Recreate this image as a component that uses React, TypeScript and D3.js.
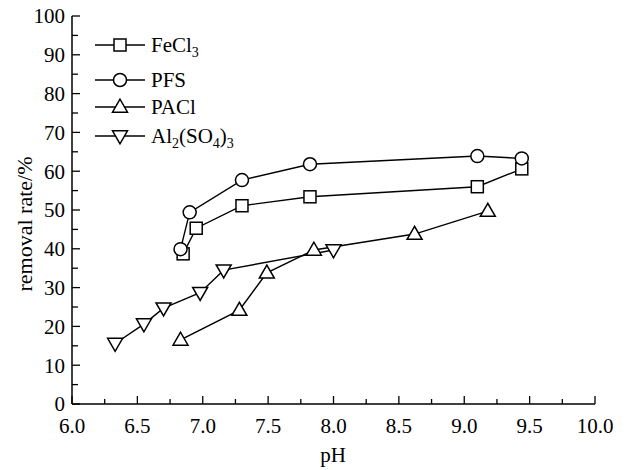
import React, { useEffect, useRef } from 'react';
import * as d3 from 'd3';

// pH values and removal rates (%)
const fecl3PH = [6.85, 6.95, 7.3, 7.82, 9.1, 9.44];
const fecl3Rate = [38.7, 45.3, 51.1, 53.4, 56.0, 60.6];

const pfsPH = [6.83, 6.9, 7.3, 7.82, 9.1, 9.44];
const pfsRate = [39.9, 49.4, 57.7, 61.8, 63.9, 63.3];

const paclPH = [6.83, 7.28, 7.49, 7.85, 8.62, 9.18];
const paclRate = [16.5, 24.2, 33.8, 39.7, 43.8, 49.7];

const alPH = [6.33, 6.55, 6.7, 6.98, 7.16, 8.0];
const alRate = [15.6, 20.6, 24.7, 28.7, 34.5, 39.7];

const xTicks = [6.0, 6.5, 7.0, 7.5, 8.0, 8.5, 9.0, 9.5, 10.0];
const yTicks = [0, 10, 20, 30, 40, 50, 60, 70, 80, 90, 100];

const series = [
  { name: 'FeCl', sub: '3', tail: '', sub2: '', marker: 'square', x: fecl3PH, y: fecl3Rate },
  { name: 'PFS', sub: '', tail: '', sub2: '', marker: 'circle', x: pfsPH, y: pfsRate },
  { name: 'PACl', sub: '', tail: '', sub2: '', marker: 'up', x: paclPH, y: paclRate },
  { name: 'Al', sub: '2', tail: '(SO', sub2: '4', marker: 'down', x: alPH, y: alRate }
];

const FONT = '"Liberation Serif", "DejaVu Serif", serif';

const drawMarker = (g, type, cx, cy) => {
  if (type === 'square') {
    g.append('rect')
      .attr('x', cx - 6)
      .attr('y', cy - 6)
      .attr('width', 12)
      .attr('height', 12)
      .attr('fill', 'white')
      .attr('stroke', 'black')
      .attr('stroke-width', 1.5);
  } else if (type === 'circle') {
    g.append('circle')
      .attr('cx', cx)
      .attr('cy', cy)
      .attr('r', 6.5)
      .attr('fill', 'white')
      .attr('stroke', 'black')
      .attr('stroke-width', 1.5);
  } else {
    const h = 13;
    const w = 7.5;
    const pts =
      type === 'up'
        ? [[cx, cy - h * 0.6], [cx - w, cy + h * 0.4], [cx + w, cy + h * 0.4]]
        : [[cx, cy + h * 0.6], [cx - w, cy - h * 0.4], [cx + w, cy - h * 0.4]];
    g.append('polygon')
      .attr('points', pts.map((p) => p.join(',')).join(' '))
      .attr('fill', 'white')
      .attr('stroke', 'black')
      .attr('stroke-width', 1.5);
  }
};

const App = () => {
  const svgRef = useRef(null);

  useEffect(() => {
    const svg = d3.select(svgRef.current);
    svg.selectAll('*').remove();

    const x = d3.scaleLinear().domain([6, 10]).range([72, 595]);
    const y = d3.scaleLinear().domain([0, 100]).range([404, 16]);

    // x axis with inward ticks
    const xAxis = svg.append('g').attr('transform', `translate(0,${y(0)})`);
    xAxis
      .append('line')
      .attr('x1', x(6))
      .attr('x2', x(10))
      .attr('stroke', 'black')
      .attr('stroke-width', 1.5);
    d3.range(6, 10.001, 0.25).forEach((v) => {
      const major = Math.abs(v * 2 - Math.round(v * 2)) < 1e-6;
      xAxis
        .append('line')
        .attr('x1', x(v))
        .attr('x2', x(v))
        .attr('y1', 0)
        .attr('y2', major ? -8 : -5)
        .attr('stroke', 'black')
        .attr('stroke-width', 1.3);
    });
    xAxis
      .selectAll('text')
      .data(xTicks)
      .enter()
      .append('text')
      .attr('x', (d) => x(d))
      .attr('y', 29)
      .attr('text-anchor', 'middle')
      .attr('font-family', FONT)
      .attr('font-size', 21)
      .text((d) => d.toFixed(1));

    // y axis with inward ticks
    const yAxis = svg.append('g').attr('transform', `translate(${x(6)},0)`);
    yAxis
      .append('line')
      .attr('y1', y(0))
      .attr('y2', y(100))
      .attr('stroke', 'black')
      .attr('stroke-width', 1.5);
    d3.range(0, 100.001, 5).forEach((v) => {
      const major = v % 10 === 0;
      yAxis
        .append('line')
        .attr('y1', y(v))
        .attr('y2', y(v))
        .attr('x1', 0)
        .attr('x2', major ? 8 : 6)
        .attr('stroke', 'black')
        .attr('stroke-width', 1.3);
    });
    yAxis
      .selectAll('text')
      .data(yTicks)
      .enter()
      .append('text')
      .attr('x', -7)
      .attr('y', (d) => y(d))
      .attr('dy', '0.35em')
      .attr('text-anchor', 'end')
      .attr('font-family', FONT)
      .attr('font-size', 21)
      .text((d) => d);

    // axis titles
    svg
      .append('text')
      .attr('transform', 'translate(32,224) rotate(-90)')
      .attr('text-anchor', 'middle')
      .attr('font-family', FONT)
      .attr('font-size', 22)
      .text('removal rate/%');
    svg
      .append('text')
      .attr('x', 333)
      .attr('y', 462)
      .attr('text-anchor', 'middle')
      .attr('font-family', FONT)
      .attr('font-size', 21)
      .text('pH');

    // lines
    const line = d3
      .line()
      .x((d) => x(d[0]))
      .y((d) => y(d[1]));
    series.forEach((s) => {
      svg
        .append('path')
        .datum(s.x.map((v, i) => [v, s.y[i]]))
        .attr('fill', 'none')
        .attr('stroke', 'black')
        .attr('stroke-width', 1.4)
        .attr('d', line);
    });

    // markers
    series.forEach((s) => {
      const g = svg.append('g');
      s.x.forEach((v, i) => drawMarker(g, s.marker, x(v), y(s.y[i])));
    });

    // legend
    const rowY = [45, 80, 107, 136];
    series.forEach((s, i) => {
      const g = svg.append('g');
      g.append('line')
        .attr('x1', 95)
        .attr('x2', 145)
        .attr('y1', rowY[i])
        .attr('y2', rowY[i])
        .attr('stroke', 'black')
        .attr('stroke-width', 1.4);
      drawMarker(g, s.marker, 120, rowY[i]);
      const t = g
        .append('text')
        .attr('x', 151)
        .attr('y', rowY[i] + 7)
        .attr('font-family', FONT)
        .attr('font-size', 21);
      t.append('tspan').text(s.name);
      if (s.sub) {
        t.append('tspan').attr('font-size', 14).attr('dy', 5).text(s.sub);
      }
      if (s.tail) {
        t.append('tspan').attr('dy', -5).text(s.tail);
        t.append('tspan').attr('font-size', 14).attr('dy', 5).text(s.sub2);
        t.append('tspan').attr('dy', -5).text(')');
        t.append('tspan').attr('font-size', 14).attr('dy', 5).text('3');
      }
    });
  }, []);

  return (
    <svg
      ref={svgRef}
      width={628}
      height={470}
      style={{ position: 'absolute', left: 0, top: 0, background: 'white' }}
    ></svg>
  );
};

export default App;
